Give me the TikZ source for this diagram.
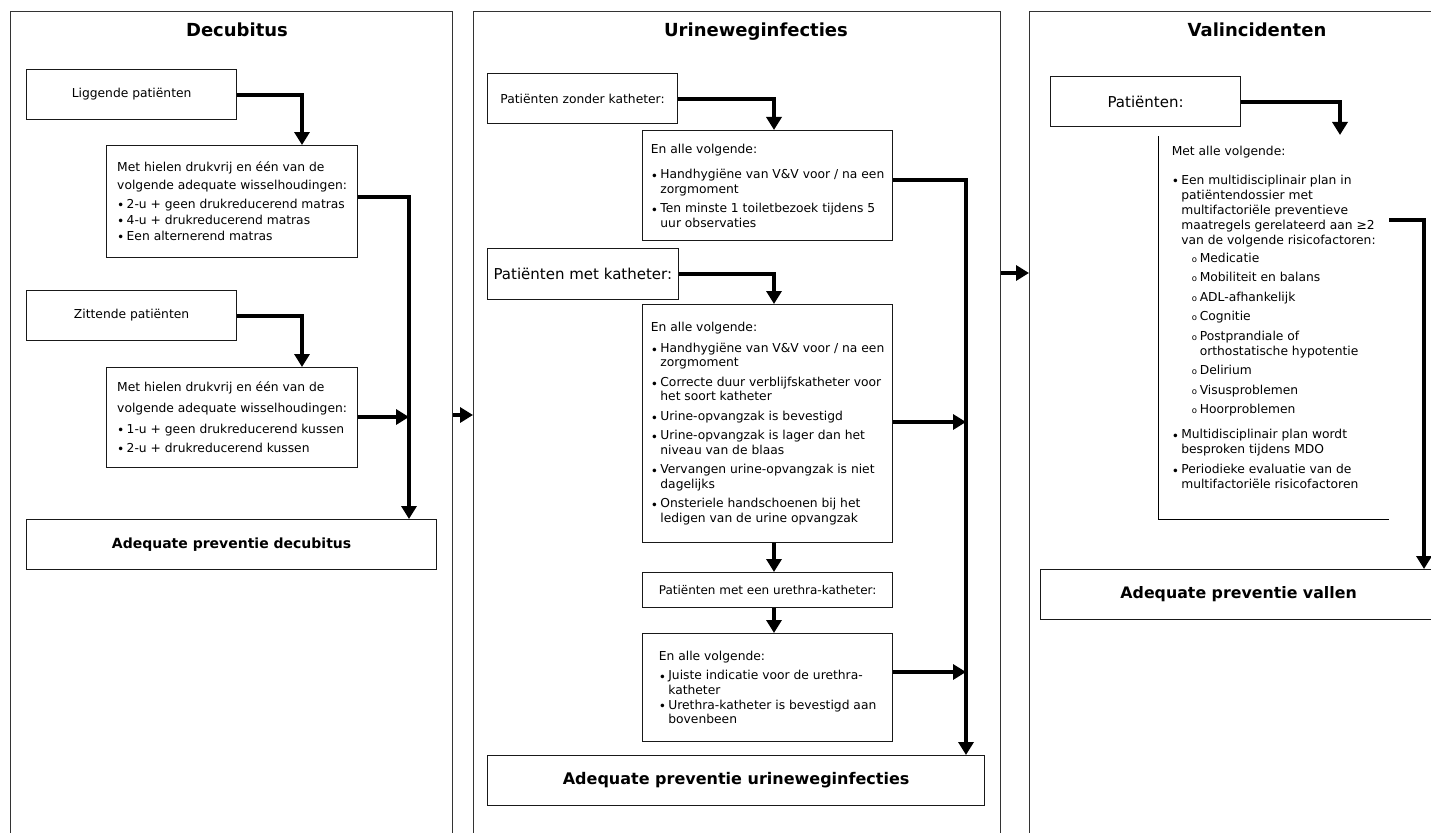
\documentclass[tikz,border=0pt]{standalone}
\usepackage{fontspec}
\setmainfont{DejaVu Sans}
\usetikzlibrary{arrows.meta}
\newcommand\bul{\makebox[9.5pt][l]{\raisebox{-1.6pt}{•}}}
\newcommand\ind{\hspace*{9.5pt}}
\newcommand\subb{\hspace*{20pt}\makebox[8pt][l]{\fontsize{8.5}{8.5}\selectfont o}}
\newcommand\subind{\hspace*{28pt}}
\newcommand\bodyf{\fontsize{12.3}{14.5}\selectfont}
\tikzset{
  panel/.style={draw=black!80, line width=1.1pt, anchor=north west, inner sep=0pt},
  box/.style={draw=black!90, line width=1.2pt, anchor=north west, inner xsep=6pt, inner ysep=0pt, font=\bodyf},
  ptitle/.style={anchor=base, font=\bfseries\fontsize{18}{20}\selectfont},
  arr/.style={line width=4pt, -{Triangle[width=15pt,length=13pt]}},
}
\begin{document}
\begin{tikzpicture}[x=1pt,y=-1pt]
\useasboundingbox (0,0) rectangle (1431,832);
\fill[white] (0,0) rectangle (1431,832);
\clip (0,0) rectangle (1431,832);

% ---------------- Panel 1: Decubitus
\node[panel, minimum width=442pt, minimum height=860pt] (p1) at (10,11) {};
\node[ptitle] (t1) at (237,37) {Decubitus};
\node[box, minimum width=210pt, minimum height=50pt] (L1) at (26,69) {Liggende patiënten};
\node[box, align=left, minimum width=251pt, minimum height=112pt, font=\fontsize{12.3}{16}\selectfont] (M1) at (106,145)
  {Met hielen drukvrij en één van de\\[2pt]volgende adequate wisselhoudingen:\\[3pt]\bul 2-u + geen drukreducerend matras\\\bul 4-u + drukreducerend matras\\\bul Een alternerend matras};
\node[box, minimum width=210pt, minimum height=50pt] (Z) at (26,290) {Zittende patiënten};
\node[box, align=left, minimum width=251pt, minimum height=100pt, font=\fontsize{12.3}{19}\selectfont] (M2) at (106,367)
  {Met hielen drukvrij en één van de\\[2pt]volgende adequate wisselhoudingen:\\[2pt]\bul 1-u + geen drukreducerend kussen\\\bul 2-u + drukreducerend kussen};
\node[box, minimum width=410pt, minimum height=50pt, font=\bfseries\fontsize{14}{16}\selectfont] (D) at (26,519) {Adequate preventie decubitus};

\draw[arr] (L1.east) -| (302,0 |- M1.north);
\draw[arr] (Z.east) -| (302,0 |- M2.north);
\draw[arr] (M1.east |- 0,197) -| (409,0 |- D.north);
\coordinate (j1) at (409,417);
\draw[arr] (M2.east |- j1) -- (j1);

% ---------------- Panel 2: Urineweginfecties
\node[panel, minimum width=527pt, minimum height=860pt] (p2) at (473,11) {};
\node[ptitle] (t2) at (756,37) {Urineweginfecties};
\node[box, align=left, inner xsep=8pt, minimum width=190pt, minimum height=50pt] (P1) at (487,73) {Patiënten zonder katheter:};
\node[box, align=left, minimum width=250pt, minimum height=110pt] (E1) at (642,130)
  {En alle volgende:\\[11pt]\bul Handhygiëne van V\&V voor / na een\\\ind zorgmoment\\[5pt]\bul Ten minste 1 toiletbezoek tijdens 5\\\ind uur observaties};
\node[box, align=left, minimum width=190pt, minimum height=51pt, font=\fontsize{15}{17}\selectfont] (P2) at (487,248) {Patiënten met katheter:};
\node[box, align=left, minimum width=250pt, minimum height=238pt] (E2) at (642,304)
  {En alle volgende:\\[6.5pt]
   \bul Handhygiëne van V\&V voor / na een\\\ind zorgmoment\\[5pt]
   \bul Correcte duur verblijfskatheter voor\\\ind het soort katheter\\[5pt]
   \bul Urine-opvangzak is bevestigd\\[5pt]
   \bul Urine-opvangzak is lager dan het\\\ind niveau van de blaas\\[5pt]
   \bul Vervangen urine-opvangzak is niet\\\ind dagelijks\\[5pt]
   \bul Onsteriele handschoenen bij het\\\ind ledigen van de urine opvangzak};
\node[box, minimum width=250pt, minimum height=35pt, font=\fontsize{12}{14}\selectfont] (P3) at (642,572) {Patiënten met een urethra-katheter:};
\node[box, align=left, minimum width=250pt, minimum height=108pt] (E3) at (642,633)
  {En alle volgende:\\[4.5pt]\bul Juiste indicatie voor de urethra-\\\ind katheter\\[0.5pt]\bul Urethra-katheter is bevestigd aan\\\ind bovenbeen};
\node[box, minimum width=497pt, minimum height=50pt, font=\bfseries\fontsize{16}{18}\selectfont] (U) at (487,755) {Adequate preventie urineweginfecties};

\draw[arr] (P1.east) -| (774,0 |- E1.north);
\draw[arr] (P2.east) -| (774,0 |- E2.north);
\draw[arr] (774,0 |- E2.south) -- (774,0 |- P3.north);
\draw[arr] (774,0 |- P3.south) -- (774,0 |- E3.north);
\draw[arr] (E1.east |- 0,180) -| (966,0 |- U.north);
\coordinate (j2) at (966,422);
\draw[arr] (E2.east |- j2) -- (j2);
\coordinate (j3) at (966,672);
\draw[arr] (E3.east |- j3) -- (j3);

% ---------------- Panel 3: Valincidenten
\node[panel, minimum width=420pt, minimum height=860pt] (p3) at (1029,11) {};
\node[ptitle] (t3) at (1257,37) {Valincidenten};
\node[box, minimum width=190pt, minimum height=50pt, font=\fontsize{15}{17}\selectfont] (PV) at (1050,76) {Patiënten:};
\coordinate (vk) at (1340,135);
\draw[arr] (PV.east) -| (vk);
\node[anchor=north west, inner sep=0pt, minimum width=231pt, minimum height=362pt, align=left, font=\fontsize{12.3}{15}\selectfont] (VB) at (1158,136)
  {Met alle volgende:\\[14pt]
   \bul Een multidisciplinair plan in\\\ind patiëntendossier met\\\ind multifactoriële preventieve\\\ind maatregels gerelateerd aan ≥2\\\ind van de volgende risicofactoren:\\[3pt]
   \subb Medicatie\\[4.5pt]
   \subb Mobiliteit en balans\\[4.5pt]
   \subb ADL-afhankelijk\\[4.5pt]
   \subb Cognitie\\[4.5pt]
   \subb Postprandiale of\\\subind orthostatische hypotentie\\[4.5pt]
   \subb Delirium\\[4.5pt]
   \subb Visusproblemen\\[4.5pt]
   \subb Hoorproblemen\\[10pt]
   \bul Multidisciplinair plan wordt\\\ind besproken tijdens MDO\\[5pt]
   \bul Periodieke evaluatie van de\\\ind multifactoriële risicofactoren};
\draw[line width=1pt] (VB.north west) -- ++(0,383) -- ++(231,0);
\node[box, minimum width=396pt, minimum height=50pt, font=\bfseries\fontsize{15.8}{18}\selectfont] (V) at (1040,569) {Adequate preventie vallen};
\draw[arr] (VB.east |- 0,220) -| (1424,0 |- V.north);

% ---------------- between panels
\draw[arr] (p1.east |- 0,415) -- (p2.west |- 0,415);
\draw[arr] (p2.east |- 0,273) -- (p3.west |- 0,273);
\end{tikzpicture}
\end{document}
